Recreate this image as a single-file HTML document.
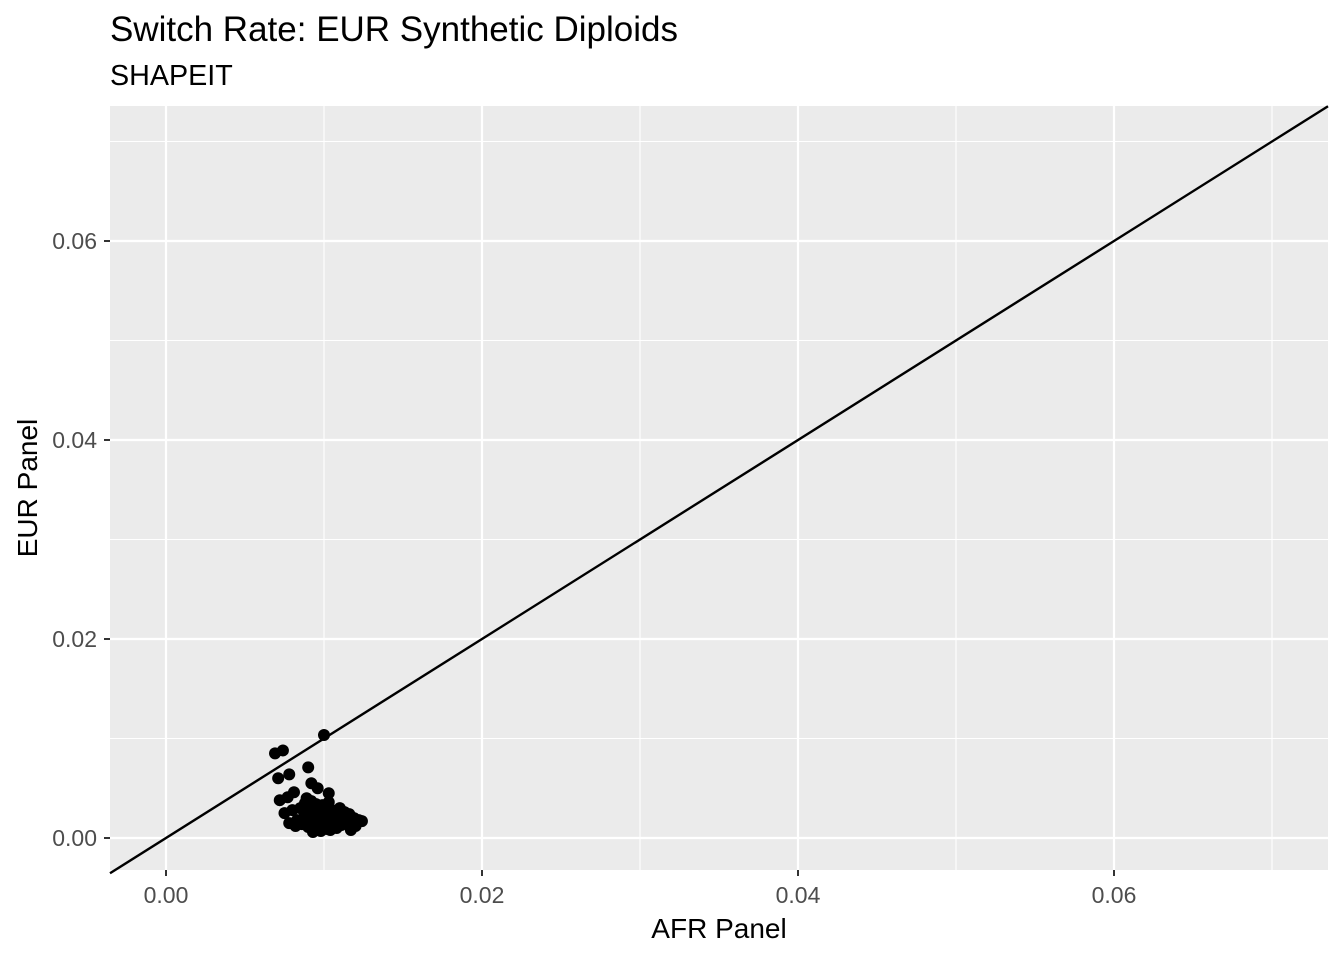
<!DOCTYPE html>
<html><head><meta charset="utf-8"><style>
body{margin:0;background:#fff;font-family:"Liberation Sans",sans-serif}
</style></head><body>
<svg width="1344" height="960" id="svg">
<text x="110" y="41" font-size="35" fill="#000">Switch Rate: EUR Synthetic Diploids</text>
<text x="110" y="85" font-size="28.7" fill="#000">SHAPEIT</text>
<rect x="110" y="106" width="1218" height="764" fill="#ebebeb"/>
<g id="grid"></g><g id="marks"></g><g id="axes"></g>
<text x="719" y="938" font-size="28" text-anchor="middle">AFR Panel</text>
<text transform="translate(37,488) rotate(-90)" font-size="28" text-anchor="middle">EUR Panel</text>
</svg>
<script>
const xTicks=[0,0.02,0.04,0.06];
const yTicks=[0,0.02,0.04,0.06];
const tickLabels=["0.00","0.02","0.04","0.06"];
const afr=[0.0100,0.0069,0.0074,0.0090,0.0071,0.0078,0.0092,0.0096,0.0103,0.0081,0.0072,0.0077,0.0089,
0.0075,0.0080,0.0085,0.0088,0.0092,0.0095,0.0098,0.0101,0.0104,0.0107,0.0110,0.0113,0.0116,0.0119,0.0122,
0.0078,0.0083,0.0087,0.0091,0.0094,0.0097,0.0100,0.0103,0.0106,0.0109,0.0112,0.0115,0.0118,
0.0082,0.0086,0.0090,0.0093,0.0096,0.0099,0.0102,0.0105,0.0108,0.0111,0.0117,0.0124,0.0120,
0.0088,0.0092,0.0095,0.0099,0.0103,0.0107,0.0093,0.0098,0.0104];
const eur=[0.01035,0.0085,0.0088,0.0071,0.0060,0.0064,0.0055,0.0050,0.0045,0.0046,0.0038,0.0041,0.0040,
0.0025,0.0028,0.0030,0.0027,0.0032,0.0030,0.0028,0.0031,0.0029,0.0027,0.0030,0.0026,0.0024,0.0020,0.0018,
0.0015,0.0018,0.0020,0.0022,0.0019,0.0021,0.0018,0.0020,0.0017,0.0019,0.0016,0.0015,0.0017,
0.0012,0.0014,0.0011,0.0013,0.0010,0.0012,0.0009,0.0011,0.0010,0.0013,0.0008,0.0017,0.0012,
0.0035,0.0037,0.0034,0.0033,0.0036,0.0022,0.0006,0.0007,0.0008];
const X=v=>166+v*15800, Y=v=>838-v*9950;
const NS="http://www.w3.org/2000/svg";
const g=document.getElementById('grid'),m=document.getElementById('marks'),a=document.getElementById('axes');
function el(t,at,p){const e=document.createElementNS(NS,t);for(const k in at)e.setAttribute(k,at[k]);p.appendChild(e);return e;}
for(let i=0;i<xTicks.length;i++){
 const x=X(xTicks[i]);
 const l=el('line',{x1:x,x2:x,y1:106,y2:870,stroke:'#fff','stroke-width':2.2},g);
 
 const xm=X(xTicks[i]+0.01);
 if(xm<1328){const l2=el('line',{x1:xm,x2:xm,y1:106,y2:870,stroke:'#fff','stroke-width':1.1},g);
 }
 el('line',{x1:x,x2:x,y1:870,y2:876,stroke:'#333','stroke-width':2},a);
 const t=el('text',{x:x,y:903,'font-size':23,fill:'#4d4d4d','text-anchor':'middle'},a);t.textContent=tickLabels[i];
 
}
for(let i=0;i<yTicks.length;i++){
 const y=Y(yTicks[i]);
 const l=el('line',{x1:110,x2:1328,y1:y,y2:y,stroke:'#fff','stroke-width':2.2},g);
 
 const ym=Y(yTicks[i]+0.01);
 if(ym>106){const l2=el('line',{x1:110,x2:1328,y1:ym,y2:ym,stroke:'#fff','stroke-width':1.1},g);
 }
 el('line',{x1:104,x2:110,y1:y,y2:y,stroke:'#333','stroke-width':2},a);
 const t=el('text',{x:97,y:y+8,'font-size':23,fill:'#4d4d4d','text-anchor':'end'},a);t.textContent=tickLabels[i];
 
}
const x0=(110-166)/15800,x1=(1328-166)/15800;
let xa=x0,xb=Math.min(x1,(838-106)/9950);
const ln=el('line',{x1:X(xa),y1:Y(xa),x2:X(xb),y2:Y(xb),stroke:'#000','stroke-width':2.4},m);

for(let i=0;i<afr.length;i++){
 const c=el('circle',{cx:X(afr[i]),cy:Y(eur[i]),r:6,fill:'#000'},m);
 
}
</script>
</body></html>
